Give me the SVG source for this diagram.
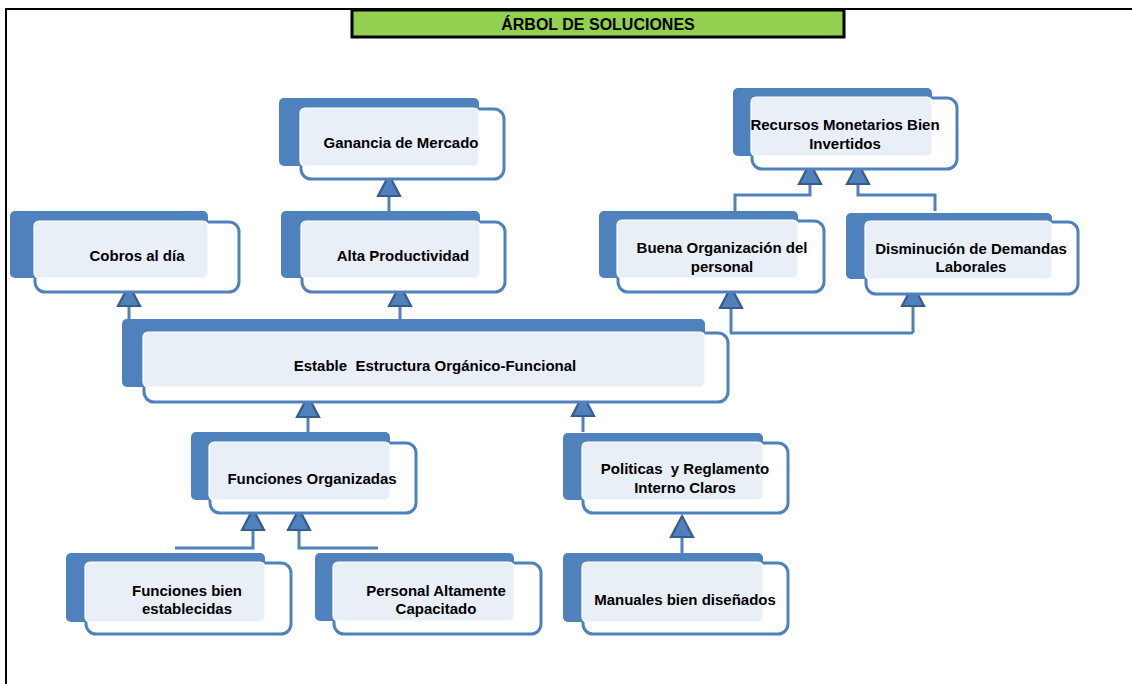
<svg xmlns="http://www.w3.org/2000/svg" width="1132" height="684" viewBox="0 0 1132 684">
  <style>
    .frame { fill: none; stroke: #000; stroke-width: 2; }
    .title-box { fill: #92d050; stroke: #000; stroke-width: 3; }
    .title { font-family: "Liberation Sans", Arial, sans-serif; font-weight: bold; font-size: 16px; fill: #000; text-anchor: middle; }
    .outline { fill: #fff; stroke: #4f81bd; stroke-width: 3; }
    .back { fill: #4f81bd; }
    .face { fill: #e9eff7; stroke: #fff; stroke-width: 1.2; }
    .label { font-family: "Liberation Sans", Arial, sans-serif; font-weight: bold; font-size: 15px; fill: #000; text-anchor: middle; white-space: pre; }
    .link { fill: none; stroke: #4f81bd; stroke-width: 3; }
    .head { fill: #4f81bd; stroke: #385d8a; stroke-width: 2.2; stroke-linejoin: miter; }
  </style>
  <defs>
    <!-- upward arrowhead, tip at origin -->
    <polygon id="up" points="0,0 11,21 -11,21"/>
  </defs>

  <rect x="0" y="0" width="1132" height="684" fill="#fff"/>

  <!-- sheet frame -->
  <path class="frame" d="M6,684 V9 H1132"/>

  <!-- title -->
  <g id="title">
    <rect class="title-box" x="352" y="10" width="492" height="27"/>
    <text class="title" x="598" y="30">ÁRBOL DE SOLUCIONES</text>
  </g>

  <!-- connectors -->
  <g id="connectors">
    <path class="link" d="M389,211 V190"/>
    <use href="#up" class="head" x="389" y="175"/>

    <path class="link" d="M129,319 V300"/>
    <use href="#up" class="head" x="129" y="285"/>

    <path class="link" d="M400,319 V300"/>
    <use href="#up" class="head" x="400" y="285"/>

    <path class="link" d="M730,333 H913 M731,333 V300 M913,333 V300"/>
    <use href="#up" class="head" x="731" y="287"/>
    <use href="#up" class="head" x="913" y="285"/>

    <path class="link" d="M735,211 V195 H810 V178 M935,211 V195 H858 V178"/>
    <use href="#up" class="head" x="810" y="163"/>
    <use href="#up" class="head" x="858" y="163"/>

    <path class="link" d="M308,432 V410"/>
    <use href="#up" class="head" x="308" y="396"/>

    <path class="link" d="M583,432 V410"/>
    <use href="#up" class="head" x="583" y="395"/>

    <path class="link" d="M175,548 H253 V523 M378,548 H299 V523"/>
    <use href="#up" class="head" x="253" y="509"/>
    <use href="#up" class="head" x="299" y="509"/>

    <path class="link" d="M682,553 V530"/>
    <use href="#up" class="head" x="682" y="516"/>
  </g>

  <!-- nodes: outline frame, accent block, face panel, label -->
  <g id="ganancia">
    <rect class="outline" x="301" y="109" width="203" height="70" rx="10"/>
    <rect class="back" x="279" y="98" width="200" height="68" rx="5"/>
    <rect class="face" x="300" y="108" width="179" height="58" rx="5"/>
    <text class="label" x="401" y="148">Ganancia de Mercado</text>
  </g>

  <g id="cobros">
    <rect class="outline" x="35" y="222" width="204" height="70" rx="10"/>
    <rect class="back" x="10" y="211" width="198" height="67" rx="5"/>
    <rect class="face" x="34" y="221" width="174" height="57" rx="5"/>
    <text class="label" x="137" y="261">Cobros al día</text>
  </g>

  <g id="alta">
    <rect class="outline" x="302" y="222" width="203" height="70" rx="10"/>
    <rect class="back" x="281" y="211" width="199" height="67" rx="5"/>
    <rect class="face" x="301" y="221" width="179" height="57" rx="5"/>
    <text class="label" x="403" y="261">Alta Productividad</text>
  </g>

  <g id="recursos">
    <rect class="outline" x="752" y="98" width="205" height="71" rx="10"/>
    <rect class="back" x="733" y="88" width="199" height="68" rx="5"/>
    <rect class="face" x="751" y="97" width="181" height="59" rx="5"/>
    <text class="label" x="845" y="130">Recursos Monetarios Bien</text>
    <text class="label" x="845" y="149">Invertidos</text>
  </g>

  <g id="buena">
    <rect class="outline" x="618" y="221" width="206" height="71" rx="10"/>
    <rect class="back" x="599" y="211" width="199" height="67" rx="5"/>
    <rect class="face" x="617" y="220" width="181" height="58" rx="5"/>
    <text class="label" x="722" y="253">Buena Organización del</text>
    <text class="label" x="722" y="272">personal</text>
  </g>

  <g id="disminucion">
    <rect class="outline" x="866" y="222" width="212" height="72" rx="10"/>
    <rect class="back" x="846" y="213" width="206" height="66" rx="5"/>
    <rect class="face" x="865" y="221" width="187" height="58" rx="5"/>
    <text class="label" x="971" y="254">Disminución de Demandas</text>
    <text class="label" x="971" y="272">Laborales</text>
  </g>

  <g id="estable">
    <rect class="outline" x="144" y="333" width="584" height="69" rx="10"/>
    <rect class="back" x="122" y="319" width="583" height="68" rx="5"/>
    <rect class="face" x="143" y="332" width="562" height="55" rx="5"/>
    <text class="label" x="435" y="371">Estable  Estructura Orgánico-Funcional</text>
  </g>

  <g id="funciones-organizadas">
    <rect class="outline" x="210" y="443" width="206" height="70" rx="10"/>
    <rect class="back" x="191" y="432" width="199" height="68" rx="5"/>
    <rect class="face" x="209" y="442" width="181" height="58" rx="5"/>
    <text class="label" x="312" y="484">Funciones Organizadas</text>
  </g>

  <g id="politicas">
    <rect class="outline" x="583" y="443" width="205" height="70" rx="10"/>
    <rect class="back" x="563" y="433" width="200" height="67" rx="5"/>
    <rect class="face" x="582" y="442" width="181" height="58" rx="5"/>
    <text class="label" x="685" y="474">Politicas  y Reglamento</text>
    <text class="label" x="685" y="493">Interno Claros</text>
  </g>

  <g id="funciones-bien">
    <rect class="outline" x="86" y="563" width="205" height="71" rx="10"/>
    <rect class="back" x="66" y="553" width="199" height="69" rx="5"/>
    <rect class="face" x="85" y="562" width="180" height="60" rx="5"/>
    <text class="label" x="187" y="596">Funciones bien</text>
    <text class="label" x="187" y="614">establecidas</text>
  </g>

  <g id="personal">
    <rect class="outline" x="334" y="563" width="207" height="71" rx="10"/>
    <rect class="back" x="315" y="553" width="199" height="68" rx="5"/>
    <rect class="face" x="333" y="562" width="181" height="59" rx="5"/>
    <text class="label" x="436" y="596">Personal Altamente</text>
    <text class="label" x="436" y="614">Capacitado</text>
  </g>

  <g id="manuales">
    <rect class="outline" x="583" y="563" width="205" height="71" rx="10"/>
    <rect class="back" x="563" y="553" width="200" height="69" rx="5"/>
    <rect class="face" x="582" y="562" width="181" height="60" rx="5"/>
    <text class="label" x="685" y="605">Manuales bien diseñados</text>
  </g>
</svg>
